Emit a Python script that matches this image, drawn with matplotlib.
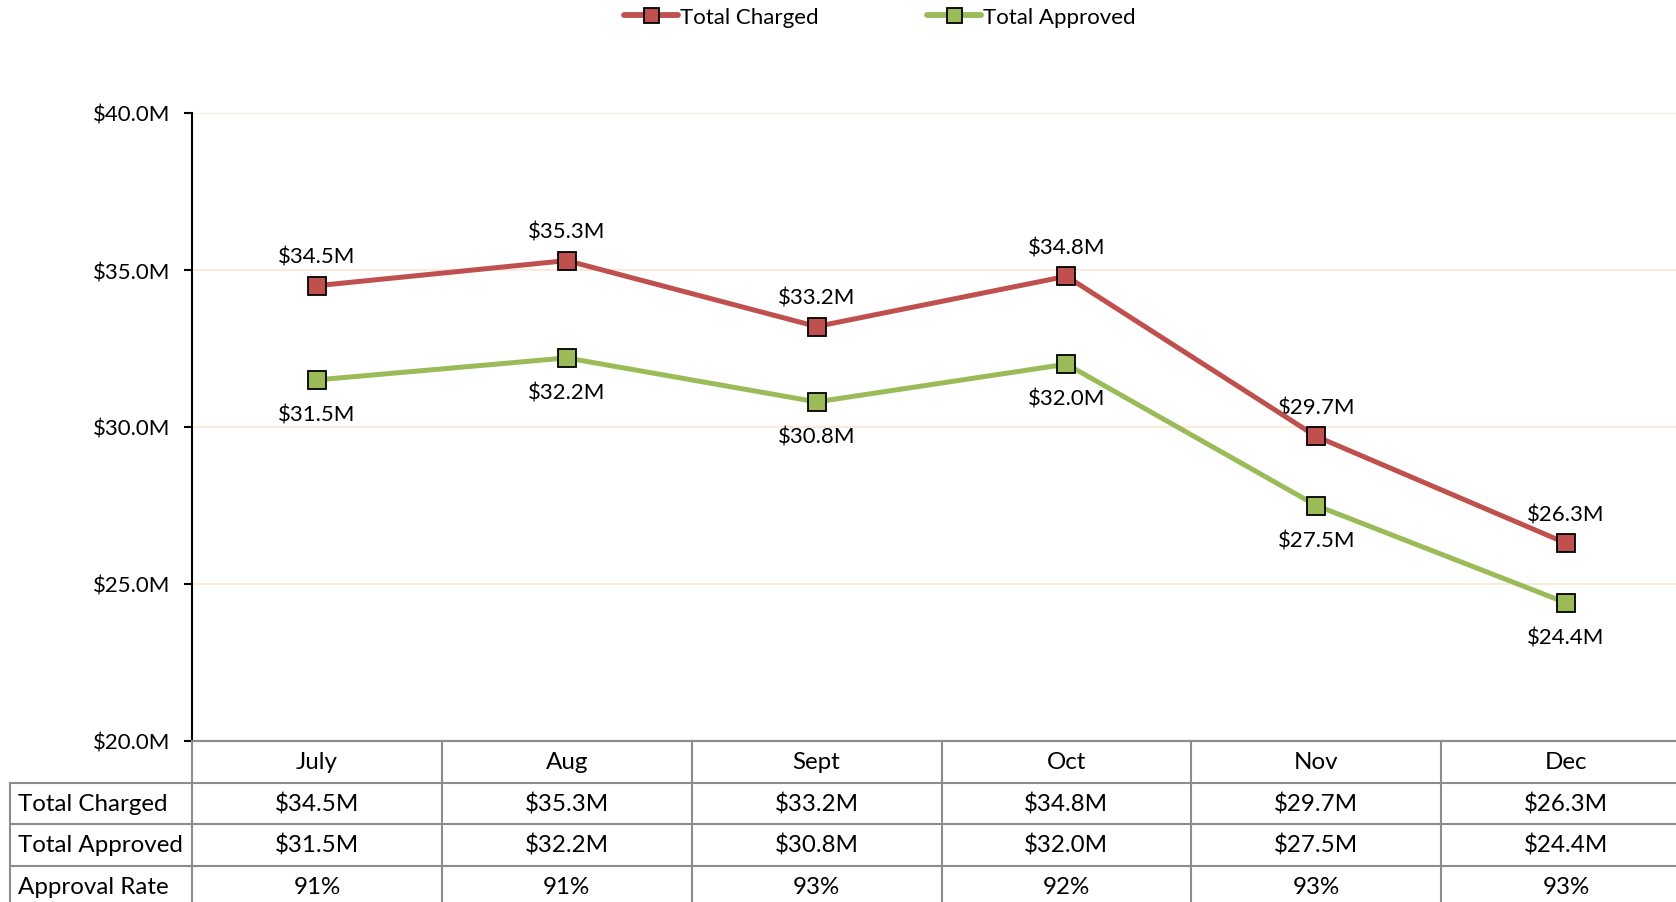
import matplotlib
matplotlib.use("Agg")
import matplotlib.pyplot as plt
from matplotlib.ticker import FuncFormatter, MultipleLocator

months = ["July", "Aug", "Sept", "Oct", "Nov", "Dec"]
total_charged = [34.5, 35.3, 33.2, 34.8, 29.7, 26.3]
total_approved = [31.5, 32.2, 30.8, 32.0, 27.5, 24.4]
approval_rate = [91, 91, 93, 92, 93, 93]
row_labels = ["Total Charged", "Total Approved", "Approval Rate"]

RED = "#C0504D"
GREEN = "#9BBB59"
GRID = "#FDE9D9"
TGRAY = "#8C8C8C"

plt.rcParams['font.family'] = ['Lato', 'DejaVu Sans']

W, H = 1676, 903
fig = plt.figure(figsize=(W / 100, H / 100), dpi=100)

ax_left, ax_right = 192, 1691
ax_top, ax_bot = 114, 742
ax = fig.add_axes([ax_left / W, (H - ax_bot) / H, (ax_right - ax_left) / W, (ax_bot - ax_top) / H])

x = list(range(len(months)))
ax.plot(x, total_charged, color=RED, lw=3.6, marker='s', ms=13.5, mfc=RED, mec='black', mew=1.3,
        label="Total Charged", zorder=4, solid_capstyle='round')
ax.plot(x, total_approved, color=GREEN, lw=3.6, marker='s', ms=13.5, mfc=GREEN, mec='black', mew=1.3,
        label="Total Approved", zorder=4, solid_capstyle='round')

fmt = lambda v: f"${v:.1f}M"
for i, v in enumerate(total_charged):
    ax.annotate(fmt(v), (i, v), xytext=(0, 21), textcoords='offset points', ha='center', va='center', fontsize=16)
for i, v in enumerate(total_approved):
    ax.annotate(fmt(v), (i, v), xytext=(0, -25), textcoords='offset points', ha='center', va='center', fontsize=16)

ax.set_xlim(-0.5, len(months) - 0.5)
ax.set_ylim(20, 40)
ax.yaxis.set_major_locator(MultipleLocator(5))
ax.yaxis.set_major_formatter(FuncFormatter(lambda v, p: f"${v:.1f}M"))
ax.grid(axis='y', color=GRID, lw=1.5, zorder=0)
ax.set_axisbelow(True)
ax.set_xticks([])
for s in ['top', 'right']:
    ax.spines[s].set_visible(False)
ax.spines['left'].set_color('black')
ax.spines['left'].set_linewidth(1.5)
ax.spines['bottom'].set_color(TGRAY)
ax.spines['bottom'].set_linewidth(1.5)
ax.tick_params(axis='y', direction='out', length=6, width=1.5, labelsize=16, pad=9.5)

# Table axes, sharing x with the main axes
row_h = 41.5
n_rows = 4
t_top = ax_bot
t_bot = t_top + row_h * n_rows
axt = fig.add_axes([ax_left / W, (H - t_bot) / H, (ax_right - ax_left) / W, (t_bot - t_top) / H], sharex=ax)
axt.set_ylim(n_rows, 0)
axt.axis('off')

lab_left = (10 - ax_left) / (ax_right - ax_left)  # axes fraction of label column left border
ln = dict(color=TGRAY, lw=1.5, clip_on=False)
# horizontal lines
axt.plot([-0.5, len(months) - 0.5], [0, 0], **ln)
for r in range(1, n_rows + 1):
    axt.plot([lab_left, 1], [r, r], transform=axt.get_yaxis_transform(), **ln)
# vertical lines
for k in range(len(months) + 1):
    axt.plot([k - 0.5, k - 0.5], [0, n_rows], **ln)
axt.plot([lab_left, lab_left], [1, n_rows], transform=axt.get_yaxis_transform(), **ln)

rows = [
    [fmt(v) for v in total_charged],
    [fmt(v) for v in total_approved],
    [f"{v}%" for v in approval_rate],
]
for i, m in enumerate(months):
    axt.text(i, 0.5, m, ha='center', va='center', fontsize=17.4)
for r, vals in enumerate(rows):
    axt.text(lab_left + 0.0055, r + 1.5, row_labels[r], transform=axt.get_yaxis_transform(),
             ha='left', va='center', fontsize=17.4)
    for i, v in enumerate(vals):
        axt.text(i, r + 1.5, v, ha='center', va='center', fontsize=17.4)

leg = fig.legend(loc='center', bbox_to_anchor=(880 / W, 1 - 18 / H), ncol=2, frameon=False,
                 fontsize=16, handlelength=2.4, columnspacing=4.9, handletextpad=0.1, markerscale=0.8)
for h in leg.legend_handles:
    h.set_linewidth(4.2)

fig.savefig("out.png", dpi=100)
